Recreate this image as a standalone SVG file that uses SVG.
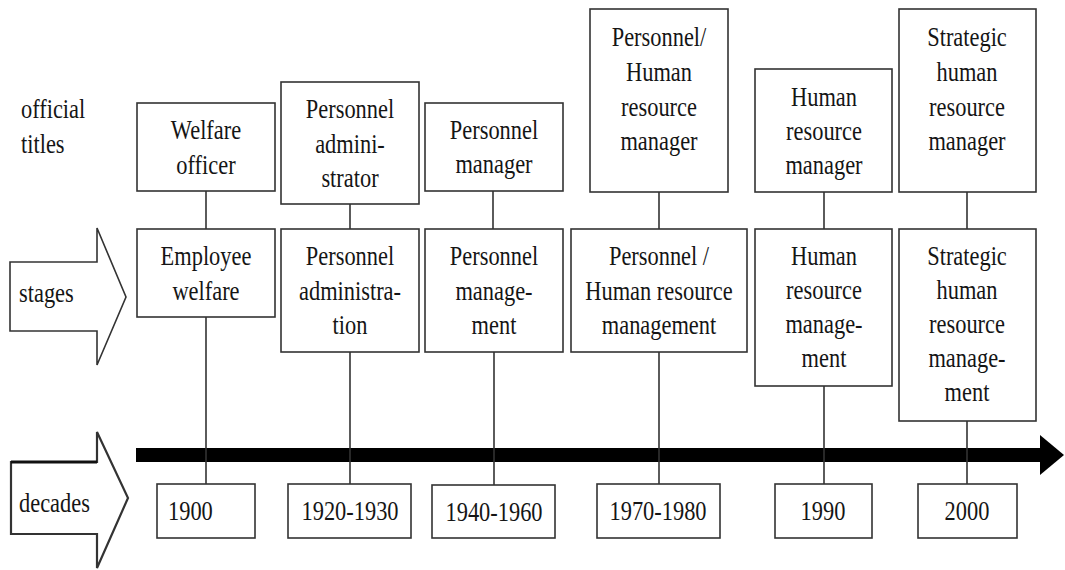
<svg xmlns="http://www.w3.org/2000/svg" width="1065" height="570" viewBox="0 0 1065 570">
<style>
.box{fill:#fff;stroke:#333;stroke-width:1.6}
.ln{stroke:#333;stroke-width:1.6;fill:none}
.t{font-family:'Liberation Serif','Times New Roman',serif;font-size:27px;fill:#151515;text-anchor:middle}
.l{font-family:'Liberation Serif','Times New Roman',serif;font-size:27px;fill:#151515;text-anchor:start}
.arr{fill:#fff;stroke:#333;stroke-width:1.6;stroke-linejoin:miter}
</style>
<rect width="1065" height="570" fill="#fff"/>

<g id="labels">
<text class="l" transform="translate(21,118) scale(0.83,1)"><tspan x="0">official</tspan><tspan x="0" dy="35">titles</tspan></text>
</g>

<g id="stages-arrow">
<polygon class="arr" points="10,262 97,262 97,228 126,297 97,365 97,331 10,331"/>
<text class="l" transform="translate(19,302) scale(0.83,1)">stages</text>
</g>

<g id="decades-arrow">
<polygon class="arr" style="stroke-width:2.2" points="11,462 97,462 97,432 128,498 97,568 97,534 11,534"/>
<line x1="11" y1="462" x2="97" y2="462" stroke="#111" stroke-width="3"/>
<text class="l" transform="translate(19,512) scale(0.83,1)">decades</text>
</g>

<g id="timeline">
<rect x="136" y="448" width="906" height="14" fill="#000"/>
<polygon points="1040,435 1064,455 1040,475" fill="#000"/>
</g>

<g id="connectors">
<line class="ln" x1="206" y1="191" x2="206" y2="229"/>
<line class="ln" x1="350" y1="204" x2="350" y2="229"/>
<line class="ln" x1="493" y1="191" x2="493" y2="229"/>
<line class="ln" x1="659" y1="192" x2="659" y2="229"/>
<line class="ln" x1="824" y1="192" x2="824" y2="229"/>
<line class="ln" x1="967" y1="192" x2="967" y2="229"/>
<line class="ln" x1="206" y1="317" x2="206" y2="484"/>
<line class="ln" x1="350" y1="352" x2="350" y2="484"/>
<line class="ln" x1="494" y1="352" x2="494" y2="485"/>
<line class="ln" x1="659" y1="352" x2="659" y2="484"/>
<line class="ln" x1="824" y1="386" x2="824" y2="484"/>
<line class="ln" x1="967" y1="421" x2="967" y2="484"/>
</g>

<g id="title-welfare-officer">
<rect class="box" x="137" y="103" width="138" height="88"/>
<text class="t" transform="translate(206,139) scale(0.83,1)"><tspan x="0">Welfare</tspan><tspan x="0" dy="35">officer</tspan></text>
</g>
<g id="title-personnel-administrator">
<rect class="box" x="281" y="82" width="138" height="122"/>
<text class="t" transform="translate(350,118) scale(0.83,1)"><tspan x="0">Personnel</tspan><tspan x="0" dy="35">admini-</tspan><tspan x="0" dy="34">strator</tspan></text>
</g>
<g id="title-personnel-manager">
<rect class="box" x="425" y="103" width="138" height="88"/>
<text class="t" transform="translate(494,139) scale(0.83,1)"><tspan x="0">Personnel</tspan><tspan x="0" dy="34">manager</tspan></text>
</g>
<g id="title-personnel-hr-manager">
<rect class="box" x="590" y="9" width="138" height="183"/>
<text class="t" transform="translate(659,46) scale(0.83,1)"><tspan x="0">Personnel/</tspan><tspan x="0" dy="35">Human</tspan><tspan x="0" dy="35">resource</tspan><tspan x="0" dy="34">manager</tspan></text>
</g>
<g id="title-hr-manager">
<rect class="box" x="755" y="69" width="137" height="123"/>
<text class="t" transform="translate(824,106) scale(0.83,1)"><tspan x="0">Human</tspan><tspan x="0" dy="34">resource</tspan><tspan x="0" dy="34">manager</tspan></text>
</g>
<g id="title-strategic-hr-manager">
<rect class="box" x="899" y="9" width="137" height="183"/>
<text class="t" transform="translate(967,46) scale(0.83,1)"><tspan x="0">Strategic</tspan><tspan x="0" dy="35">human</tspan><tspan x="0" dy="35">resource</tspan><tspan x="0" dy="34">manager</tspan></text>
</g>

<g id="stage-employee-welfare">
<rect class="box" x="137" y="229" width="138" height="88"/>
<text class="t" transform="translate(206,265) scale(0.83,1)"><tspan x="0">Employee</tspan><tspan x="0" dy="35">welfare</tspan></text>
</g>
<g id="stage-personnel-administration">
<rect class="box" x="281" y="229" width="138" height="123"/>
<text class="t" transform="translate(350,265) scale(0.83,1)"><tspan x="0">Personnel</tspan><tspan x="0" dy="35">administra-</tspan><tspan x="0" dy="34">tion</tspan></text>
</g>
<g id="stage-personnel-management">
<rect class="box" x="425" y="229" width="138" height="123"/>
<text class="t" transform="translate(494,265) scale(0.83,1)"><tspan x="0">Personnel</tspan><tspan x="0" dy="35">manage-</tspan><tspan x="0" dy="34">ment</tspan></text>
</g>
<g id="stage-personnel-hrm">
<rect class="box" x="571" y="229" width="176" height="123"/>
<text class="t" transform="translate(659,265) scale(0.83,1)"><tspan x="0">Personnel /</tspan><tspan x="0" dy="35">Human resource</tspan><tspan x="0" dy="34">management</tspan></text>
</g>
<g id="stage-hrm">
<rect class="box" x="755" y="229" width="137" height="157"/>
<text class="t" transform="translate(824,265) scale(0.83,1)"><tspan x="0">Human</tspan><tspan x="0" dy="34">resource</tspan><tspan x="0" dy="34">manage-</tspan><tspan x="0" dy="34">ment</tspan></text>
</g>
<g id="stage-shrm">
<rect class="box" x="899" y="229" width="137" height="192"/>
<text class="t" transform="translate(967,265) scale(0.83,1)"><tspan x="0">Strategic</tspan><tspan x="0" dy="34">human</tspan><tspan x="0" dy="34">resource</tspan><tspan x="0" dy="34">manage-</tspan><tspan x="0" dy="34">ment</tspan></text>
</g>

<g id="decade-1900">
<rect class="box" x="157" y="484" width="98" height="54"/>
<text class="l" transform="translate(168,520) scale(0.83,1)">1900</text>
</g>
<g id="decade-1920-1930">
<rect class="box" x="288" y="484" width="123" height="54"/>
<text class="t" transform="translate(350,520) scale(0.83,1)">1920-1930</text>
</g>
<g id="decade-1940-1960">
<rect class="box" x="432" y="485" width="123" height="53"/>
<text class="t" transform="translate(494,521) scale(0.83,1)">1940-1960</text>
</g>
<g id="decade-1970-1980">
<rect class="box" x="597" y="484" width="123" height="54"/>
<text class="t" transform="translate(658,520) scale(0.83,1)">1970-1980</text>
</g>
<g id="decade-1990">
<rect class="box" x="775" y="484" width="97" height="54"/>
<text class="t" transform="translate(823,520) scale(0.83,1)">1990</text>
</g>
<g id="decade-2000">
<rect class="box" x="918" y="484" width="99" height="54"/>
<text class="t" transform="translate(967,520) scale(0.83,1)">2000</text>
</g>
</svg>
